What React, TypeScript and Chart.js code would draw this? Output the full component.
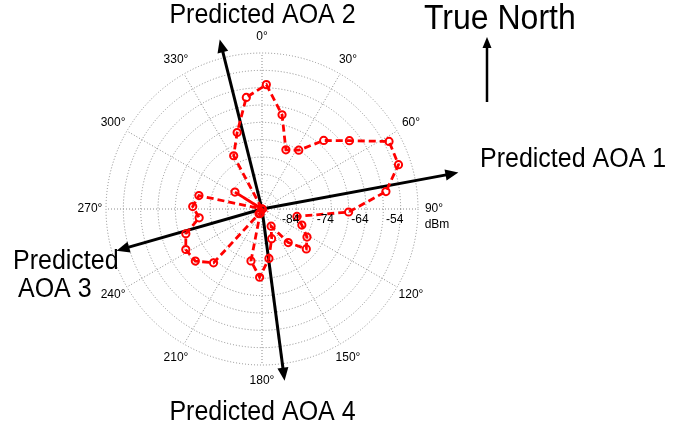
import React, { useEffect, useRef } from "react";
import { Chart, registerables } from "chart.js";

Chart.register(...registerables);

// Received signal strength (dBm) measured while rotating the antenna (bearing in degrees from north)
const bearingsDeg = [2, 12, 22, 32, 42, 52, 62, 72, 82, 92, 102, 112, 122, 132, 142, 152, 162, 172, 182, 192, 202, 212, 222, 232, 242, 252, 262, 272, 282, 292, 302, 312, 322, 332, 342, 352];
const rssiDbm = [-58.1, -66.2, -75.6, -74.0, -67.4, -62.0, -52.5, -52.6, -57.9, -69.0, -83.7, -81.6, -78.7, -76.8, -81.7, -88.4, -85.0, -79.6, -74.3, -78.7, -92.6, -92.4, -73.1, -69.6, -69.1, -70.9, -75.7, -74.0, -75.4, -94, -84.8, -94, -94, -76.6, -70.8, -61.5];

// Radial range of the plot and its labelled rings
const rangeMin = -94;
const rangeMax = -49;
const ringStep = 5;
const rangeTicks = [-84, -74, -64, -54];

// Angle labels around the rim
const angleTicks = [0, 30, 60, 90, 120, 150, 180, 210, 240, 270, 300, 330];

// Predicted angles of arrival and how far each arrow reaches (as a fraction of the outer ring)
const aoaBearings = [79.5, 346, 254, 172.5];
const aoaReach = [1.28, 1.12, 0.97, 1.11];

const FONT = '"Liberation Sans", Arial, Helvetica, sans-serif';

// One category per degree so every bearing lands on its own spoke
const degreeLabels = Array.from({ length: 360 }, (_, i) => i);
const seriesByDegree: (number | null)[] = degreeLabels.map(() => null);
bearingsDeg.forEach((b, i) => {
  seriesByDegree[b] = rssiDbm[i];
});

function drawText(
  ctx: CanvasRenderingContext2D,
  text: string,
  x: number,
  y: number,
  size: number,
  align: CanvasTextAlign,
  stretchY = 1
) {
  ctx.save();
  ctx.translate(x, y);
  ctx.scale(1, stretchY);
  ctx.font = `${size}px ${FONT}`;
  ctx.fillStyle = "#000";
  ctx.textAlign = align;
  ctx.textBaseline = "middle";
  ctx.fillText(text, 0, 0);
  ctx.restore();
}

function drawArrow(
  ctx: CanvasRenderingContext2D,
  x0: number,
  y0: number,
  x1: number,
  y1: number,
  width: number,
  headLen: number,
  headHalf: number
) {
  const ang = Math.atan2(y1 - y0, x1 - x0);
  const bx = x1 - Math.cos(ang) * headLen;
  const by = y1 - Math.sin(ang) * headLen;
  ctx.save();
  ctx.strokeStyle = "#000";
  ctx.fillStyle = "#000";
  ctx.lineWidth = width;
  ctx.lineCap = "butt";
  ctx.beginPath();
  ctx.moveTo(x0, y0);
  ctx.lineTo(bx + Math.cos(ang) * 2, by + Math.sin(ang) * 2);
  ctx.stroke();
  ctx.beginPath();
  ctx.moveTo(x1, y1);
  ctx.lineTo(bx + Math.cos(ang + Math.PI / 2) * headHalf, by + Math.sin(ang + Math.PI / 2) * headHalf);
  ctx.lineTo(bx + Math.cos(ang - Math.PI / 2) * headHalf, by + Math.sin(ang - Math.PI / 2) * headHalf);
  ctx.closePath();
  ctx.fill();
  ctx.restore();
}

const polarDecor = {
  id: "polarDecor",
  beforeDatasetsDraw(chart: any) {
    const scale = chart.scales.r;
    const ctx: CanvasRenderingContext2D = chart.ctx;
    aoaBearings.forEach((b, i) => {
      const tip = scale.getPointPosition(b, scale.drawingArea * aoaReach[i]);
      drawArrow(ctx, scale.xCenter, scale.yCenter, tip.x, tip.y, 3, 13, 5.5);
    });
  },
  afterDraw(chart: any) {
    const scale = chart.scales.r;
    const ctx: CanvasRenderingContext2D = chart.ctx;
    const cx = scale.xCenter;
    const cy = scale.yCenter;
    const R = scale.drawingArea;

    angleTicks.forEach((a) => {
      const p = scale.getPointPosition(a, R + 16);
      drawText(ctx, `${a}°`, p.x, p.y, 12, "center");
    });
    rangeTicks.forEach((v) => {
      const d = scale.getDistanceFromCenterForValue(v);
      drawText(ctx, `${v}`, cx + d - 6, cy + 11, 12, "center");
    });
    drawText(ctx, "dBm", cx + R + 19, cy + 16, 12, "center");

    // Annotations
    drawText(ctx, "Predicted AOA 2", 262.5, 16, 25, "center", 1.08);
    drawText(ctx, "Predicted AOA 1", 480, 160, 25, "left", 1.08);
    drawText(ctx, "Predicted", 13, 262, 25, "left", 1.08);
    drawText(ctx, "AOA 3", 18, 290, 25, "left", 1.08);
    drawText(ctx, "Predicted AOA 4", 262.5, 413, 25, "center", 1.08);
    drawText(ctx, "True North", 424, 19, 32, "left", 1.1);
    drawArrow(ctx, 487, 102, 487, 37, 2.5, 11, 4.5);
  },
};

export default function App() {
  const canvasRef = useRef<HTMLCanvasElement>(null);

  useEffect(() => {
    const canvas = canvasRef.current;
    if (!canvas) return;
    const chart = new Chart(canvas, {
      type: "radar",
      data: {
        labels: degreeLabels,
        datasets: [
          {
            data: seriesByDegree,
            spanGaps: true,
            fill: false,
            borderColor: "#ff0000",
            borderWidth: 2.8,
            borderDash: [7, 4],
            tension: 0,
            pointRadius: 3.6,
            pointBorderWidth: 2,
            pointBorderColor: "#ff0000",
            pointBackgroundColor: "rgba(0,0,0,0)",
            pointHoverRadius: 3.6,
          } as any,
        ],
      },
      options: {
        animation: false,
        responsive: false,
        devicePixelRatio: 1,
        events: [],
        layout: { padding: { left: 106, right: 263, top: 53, bottom: 65 } },
        plugins: { legend: { display: false }, tooltip: { enabled: false } },
        scales: {
          r: {
            min: rangeMin,
            max: rangeMax,
            startAngle: 0,
            ticks: { display: false, stepSize: ringStep },
            pointLabels: { display: false },
            grid: { circular: true, color: "#8a8a8a", lineWidth: 1 },
            border: { dash: [1, 2] },
            angleLines: {
              display: true,
              color: "#8a8a8a",
              lineWidth: (c: any) => (c.index % 30 === 0 ? 1 : 0),
              borderDash: [1, 2],
            },
          } as any,
        },
      },
      plugins: [polarDecor],
    });
    return () => chart.destroy();
  }, []);

  return (
    <div style={{ position: "fixed", left: 0, top: 0, width: 681, height: 430, background: "#fff" }}>
      <canvas ref={canvasRef} width={681} height={430} style={{ display: "block" }} />
    </div>
  );
}
